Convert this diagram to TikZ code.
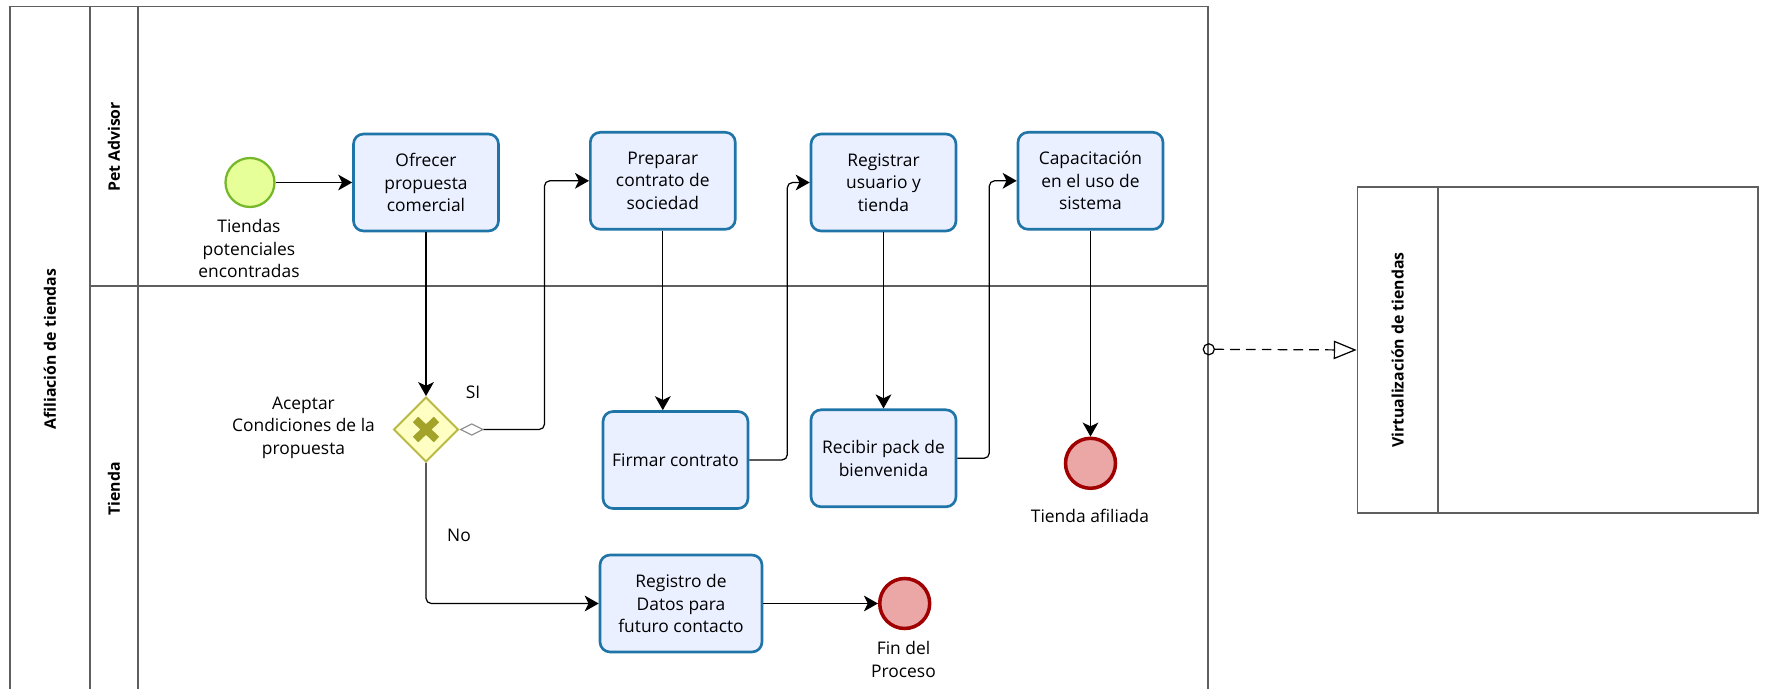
\documentclass[tikz,border=0pt]{standalone}
\usepackage{fontspec}
\setmainfont{Open Sans}
\usepackage{tikz}
\usetikzlibrary{arrows.meta, calc, positioning, shapes.geometric}
\usepackage{xcolor}
\definecolor{bTask}{HTML}{EAF0FF}
\definecolor{bTaskLine}{HTML}{1F74A8}
\definecolor{bStart}{HTML}{E6FF99}
\definecolor{bStartLine}{HTML}{76B82A}
\definecolor{bEnd}{HTML}{EBA6A6}
\definecolor{bEndLine}{HTML}{A00000}
\definecolor{bGate}{HTML}{FFFFC4}
\definecolor{bGateLine}{HTML}{B9B943}
\definecolor{bGateX}{HTML}{A3A32A}
\definecolor{bPool}{HTML}{5F5F5F}

\begin{document}
\begin{tikzpicture}[x=0.02cm, y=-0.02cm,
  txt/.style={font=\fontsize{9.9}{12.8}\selectfont, align=center},
  task/.style={txt, draw=bTaskLine, fill=bTask, line width=1.5pt, rounded corners=0.2cm,
               minimum width=#1, minimum height=1.94cm, inner sep=2pt},
  task/.default=2.9cm,
  startev/.style={circle, draw=bStartLine, fill=bStart, line width=1.3pt, minimum size=0.98cm, inner sep=0pt},
  endev/.style={circle, draw=bEndLine, fill=bEnd, line width=2pt, minimum size=1cm, inner sep=0pt},
  gate/.style={diamond, draw=bGateLine, fill=bGate, line width=1.1pt, minimum size=1.3cm, inner sep=0pt},
  lbl/.style={txt, inner sep=0pt},
  lanelab/.style={font=\fontsize{9}{11}\selectfont\bfseries, rotate=90, inner sep=0pt},
  pool/.style={draw=bPool, line width=1pt},
  arr/.style={-{Stealth[length=8pt, width=9pt, inset=2.2pt]}, line width=0.7pt, rounded corners=3pt},
  cond/.style={arr, {Diamond[fill=white, color=black!45, length=14pt, width=7pt, line width=0.6pt]}-{Stealth[length=8pt, width=9pt, inset=2.2pt]}},
  msg/.style={{Circle[open, length=7pt]}-{Triangle[open, length=13pt, width=10.5pt]},
              line width=0.7pt, dash pattern=on 5.5pt off 3.5pt, shorten <=-3.5pt}]
  \useasboundingbox (0,0) rectangle (1766,689);
  % pools and lanes
  \node[pool, minimum width=23.97cm, minimum height=13.71cm] (pool1) at (608.8,349.3) {};
  \draw[pool] (90,6.7) -- (90,692);
  \draw[pool] (138,6.7) -- (138,692);
  \draw[pool] (90,286) -- (1208,286);
  \node[pool, minimum width=8.01cm, minimum height=6.53cm] (pool2) at (1557.7,350) {};
  \draw[pool] (1438,186.7) -- (1438,513.3);
  \node[lanelab] (poollab) at (50,349) {Afiliación de tiendas};
  \foreach \n/\y/\lab in {lane1/147/Pet Advisor, lane2/489/Tienda} \node[lanelab] (\n) at (114,\y) {\lab};
  \node[lanelab] (pool2lab) at (1397.7,350) {Virtualización de tiendas};
  % lane 1: Pet Advisor
  \node[startev] (start) at (250,182.5) {};
  \node[task] (t1) at (426,182.5) {Ofrecer\\propuesta\\comercial};
  \node[task] (t2) at (662.8,180.8) {Preparar\\contrato de\\sociedad};
  \node[task] (t3) at (883.5,182.5) {Registrar\\usuario y\\tienda};
  \node[task] (t4) at (1090.5,180.8) {Capacitación\\en el uso de\\sistema};
  % lane 2: Tienda
  \node[gate] (g) at (426,429.5) {};
  \draw[bGateX, line width=4.4pt] ($(g)+(-10.5,-10)$) -- ($(g)+(10.5,10)$) ($(g)+(-10.5,10)$) -- ($(g)+(10.5,-10)$);
  \node[task] (t5) at (675.5,460) {Firmar contrato};
  \node[task] (t6) at (883.5,458.3) {Recibir pack de\\bienvenida};
  \node[endev] (e1) at (1090.5,463.3) {};
  \node[task=3.24cm] (t7) at (681,603.5) {Registro de\\Datos para\\futuro contacto};
  \node[endev] (e2) at (904.7,603.5) {};
  % labels
  \node[lbl] (startlab) at (249,248.5) {Tiendas\\potenciales\\encontradas};
  \node[lbl] (glab) at (303.5,427.7) {Aceptar\\Condiciones de la\\propuesta};
  \node[lbl] (si) at (473,392) {SI};
  \node[lbl] (no) at (459,535) {No};
  \node[lbl] (e1lab) at (1090,516) {Tienda afiliada};
  \node[lbl] (e2lab) at (903.5,659.7) {Fin del\\Proceso};
  % flows
  \draw[arr] (start) -- (t1);
  \draw[arr] (t1.south) -- (g.north);
  \draw[cond] (g.east) -- ++(85,0) |- (t2.west);
  \draw[arr] (g.south) |- (t7.west);
  \draw[arr] (t2.south) -- (t2.south |- t5.north);
  \draw[arr] (t5.east) -- ++(38,0) |- (t3.west);
  \draw[arr] (t3) -- (t6);
  \draw[arr] (t6.east) -- ++(32,0) |- (t4.west);
  \draw[arr] (t4) -- (e1);
  \draw[arr] (t7) -- (e2);
  \draw[msg] (pool1.east) -- (pool2.west);
\end{tikzpicture}
\end{document}
